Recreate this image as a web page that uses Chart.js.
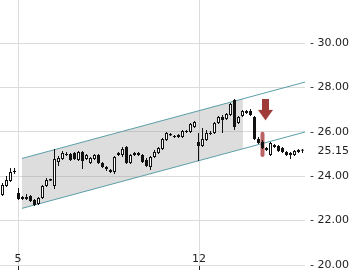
<!DOCTYPE html>
<html>
<head>
<meta charset="utf-8">
<script src="https://cdn.jsdelivr.net/npm/chart.js@4.4.1/dist/chart.umd.min.js"></script>
<style>
  html, body { margin: 0; padding: 0; background: #fff; }
  #wrap { width: 354px; height: 273px; }
</style>
</head>
<body>
<div id="wrap"><canvas id="chartVelas" width="354" height="273"></canvas></div>
<script>
// velas, una por posicion (indice)
const open = [23.15, 23.56, 23.78, 24.23, 23.24, 22.97, 23.06, 23.11, 22.93, 22.75,
    23.02, 23.56, 23.87, 23.56, 24.64, 24.78, 24.96, 25.00, 25.05, 24.73,
    25.09, 24.78, 24.60, 24.78, 24.96, 24.60, 24.41, 24.28, 24.19, 25.05,
    24.96, 25.32, 24.60, 25.05, 25.04, 24.96, 24.73, 24.41, 24.87, 25.05,
    25.23, 25.63, 25.90, 25.81, 25.86, 25.77, 26.04, 25.99, 26.22, 25.54,
    25.36, 25.63, 25.95, 25.95, 26.40, 26.67, 26.58, 26.76, 27.43, 26.40,
    26.71, 26.94, 26.94, 26.67, 25.68, 25.54, 25.27, 24.96, 25.41, 25.36,
    25.27, 25.09, 25.05, 24.96, 25.18, 25.20];
const high = [23.69, 24.01, 24.37, 24.37, 23.47, 23.11, 23.20, 23.15, 22.97, 23.06,
    23.60, 23.92, 23.89, 25.23, 24.91, 25.14, 25.09, 25.05, 25.09, 25.14,
    25.14, 25.00, 24.87, 25.00, 25.00, 24.64, 24.46, 24.32, 24.91, 25.09,
    25.32, 25.36, 25.00, 25.09, 25.09, 25.00, 24.82, 24.91, 25.18, 25.32,
    25.72, 25.99, 25.95, 25.86, 25.90, 26.08, 26.08, 26.40, 26.49, 25.95,
    26.17, 26.08, 26.04, 26.44, 26.71, 26.76, 26.85, 27.30, 27.48, 26.71,
    26.98, 26.98, 27.03, 26.71, 25.77, 25.63, 25.32, 25.54, 25.45, 25.41,
    25.32, 25.14, 25.09, 25.18, 25.23, 25.23];
const low = [23.11, 23.51, 23.74, 24.10, 22.93, 22.93, 22.93, 22.84, 22.66, 22.70,
    22.97, 23.51, 23.78, 23.42, 24.46, 24.73, 24.91, 24.69, 24.73, 24.69,
    24.32, 24.73, 24.55, 24.73, 24.55, 24.37, 24.23, 24.14, 24.10, 24.91,
    24.87, 24.55, 24.55, 24.91, 24.91, 24.60, 24.41, 24.28, 24.82, 25.00,
    25.18, 25.59, 25.81, 25.72, 25.72, 25.72, 25.95, 25.95, 26.17, 24.69,
    25.32, 25.59, 25.86, 25.90, 26.35, 25.95, 26.53, 26.71, 26.08, 26.35,
    26.67, 26.80, 26.71, 25.63, 25.45, 25.23, 25.14, 24.91, 25.27, 25.09,
    25.05, 24.91, 24.78, 24.91, 25.05, 25.05];
const close = [23.60, 23.83, 24.19, 24.19, 22.97, 23.06, 22.97, 22.88, 22.70, 23.02,
    23.56, 23.83, 23.79, 24.78, 24.82, 25.05, 25.00, 24.73, 24.78, 25.09,
    24.69, 24.96, 24.82, 24.96, 24.60, 24.41, 24.32, 24.19, 24.87, 24.96,
    25.23, 24.60, 24.96, 24.96, 24.95, 24.64, 24.46, 24.87, 25.09, 25.27,
    25.68, 25.95, 25.83, 25.77, 25.77, 26.04, 25.99, 26.35, 26.44, 25.36,
    25.68, 25.95, 25.90, 26.40, 26.67, 26.53, 26.80, 27.25, 26.22, 26.67,
    26.94, 26.85, 26.76, 25.68, 25.50, 25.27, 25.18, 25.50, 25.32, 25.14,
    25.09, 24.96, 24.96, 25.14, 25.09, 25.15];

// canal de tendencia (inicio, fin del sombreado, fin)
const canalIdx = [4.875, 60.1, 75.625];
const canalSup = [24.80, 27.485, 28.24];
const canalInf = [22.55, 25.235, 25.99];

// marcador rojo y flecha
const marcaIdx = 65;
const marcaRango = [24.87, 26.0];
const flechaIdx = 65.75;
const flechaValor = 26.99;

const xTickPos = [3.9, 49.15];
const xTickLabels = ['5', '12'];
const yTicks = [20, 22, 24, 26, 28, 30];
const ultimo = close[close.length - 1];

const FUENTE = { family: 'DejaVu Sans', size: 11 };
const GRIS = '#dcdcdc';
const TEXTO = '#222';

function crearFlecha() {
    const c = document.createElement('canvas');
    c.width = 15;
    c.height = 22;
    const g = c.getContext('2d');
    g.fillStyle = '#a03c38';
    g.fillRect(4, 0, 7, 12);
    g.beginPath();
    g.moveTo(0, 11);
    g.lineTo(15, 11);
    g.lineTo(7.5, 21.5);
    g.closePath();
    g.fill();
    return c;
}

const etiquetaUltimo = {
    id: 'etiquetaUltimo',
    afterDraw(chart) {
        const y = chart.scales.y;
        const ctx = chart.ctx;
        ctx.save();
        ctx.font = '11px "DejaVu Sans"';
        ctx.fillStyle = TEXTO;
        ctx.textAlign = 'left';
        ctx.textBaseline = 'middle';
        const x0 = y.left + 5 + ctx.measureText('- ').width;
        ctx.fillText(ultimo.toFixed(2), x0, y.getPixelForValue(ultimo));
        ctx.restore();
    }
};

const barraBase = {
    type: 'bar',
    grouped: false,
    barPercentage: 1,
    categoryPercentage: 1,
    inflateAmount: 0
};

new Chart(document.getElementById('chartVelas'), {
    type: 'bar',
    data: {
        datasets: [
            {
                type: 'line',
                data: canalIdx.slice(0, 2).map((x, i) => ({ x: x, y: canalSup[i] })),
                borderWidth: 0,
                borderColor: 'rgba(0,0,0,0)',
                backgroundColor: 'rgba(150,150,150,0.32)',
                pointRadius: 0,
                fill: '+1',
                order: 10
            },
            {
                type: 'line',
                data: canalIdx.slice(0, 2).map((x, i) => ({ x: x, y: canalInf[i] })),
                borderWidth: 0,
                borderColor: 'rgba(0,0,0,0)',
                pointRadius: 0,
                fill: false,
                order: 10
            },
            {
                type: 'line',
                data: canalIdx.map((x, i) => ({ x: x, y: canalSup[i] })),
                borderColor: '#5b9ea8',
                borderWidth: 1,
                pointRadius: 0,
                fill: false,
                order: 8
            },
            {
                type: 'line',
                data: canalIdx.map((x, i) => ({ x: x, y: canalInf[i] })),
                borderColor: '#5b9ea8',
                borderWidth: 1,
                pointRadius: 0,
                fill: false,
                order: 8
            },
            Object.assign({}, barraBase, {
                data: [{ x: marcaIdx, y: marcaRango }],
                backgroundColor: 'rgba(170,60,60,0.8)',
                maxBarThickness: 4,
                borderRadius: 2,
                borderSkipped: false,
                order: 6
            }),
            Object.assign({}, barraBase, {
                data: open.map((o, i) => ({ x: i, y: [low[i], high[i]] })),
                backgroundColor: '#111',
                maxBarThickness: 1,
                borderWidth: 0,
                order: 4
            }),
            Object.assign({}, barraBase, {
                data: open.map((o, i) => ({ x: i, y: [o, close[i]] })),
                backgroundColor: open.map((o, i) => close[i] > o ? '#fff' : '#111'),
                borderColor: '#111',
                borderWidth: 1,
                borderSkipped: false,
                maxBarThickness: 3,
                order: 3
            }),
            {
                type: 'scatter',
                data: [{ x: flechaIdx, y: flechaValor }],
                pointStyle: crearFlecha(),
                pointRadius: 5,
                order: 1
            }
        ]
    },
    options: {
        responsive: false,
        animation: false,
        events: [],
        layout: { padding: 0, autoPadding: false },
        plugins: {
            legend: { display: false },
            tooltip: { enabled: false }
        },
        scales: {
            x: {
                type: 'linear',
                offset: false,
                min: -0.625,
                max: 75.625,
                afterBuildTicks: s => { s.ticks = xTickPos.map(v => ({ value: v })); },
                afterFit: s => { s.height = 8; s.paddingLeft = 0; s.paddingRight = 0; },
                grid: { offset: false, color: GRIS, tickColor: TEXTO, tickLength: 5 },
                border: { display: false },
                ticks: {
                    font: FUENTE,
                    color: TEXTO,
                    mirror: true,
                    padding: -1,
                    maxRotation: 0,
                    autoSkip: false,
                    callback: (v, i) => xTickLabels[i]
                }
            },
            y: {
                position: 'right',
                min: 20,
                max: 31.937,
                afterBuildTicks: s => { s.ticks = yTicks.map(v => ({ value: v })); },
                afterFit: s => { s.width = 49; s.paddingTop = 0; s.paddingBottom = 0; },
                grid: { color: GRIS, drawTicks: false },
                border: { display: false },
                ticks: {
                    font: FUENTE,
                    color: TEXTO,
                    padding: 5,
                    callback: v => '- ' + v.toFixed(2)
                }
            }
        }
    },
    plugins: [etiquetaUltimo]
});
</script>
</body>
</html>
